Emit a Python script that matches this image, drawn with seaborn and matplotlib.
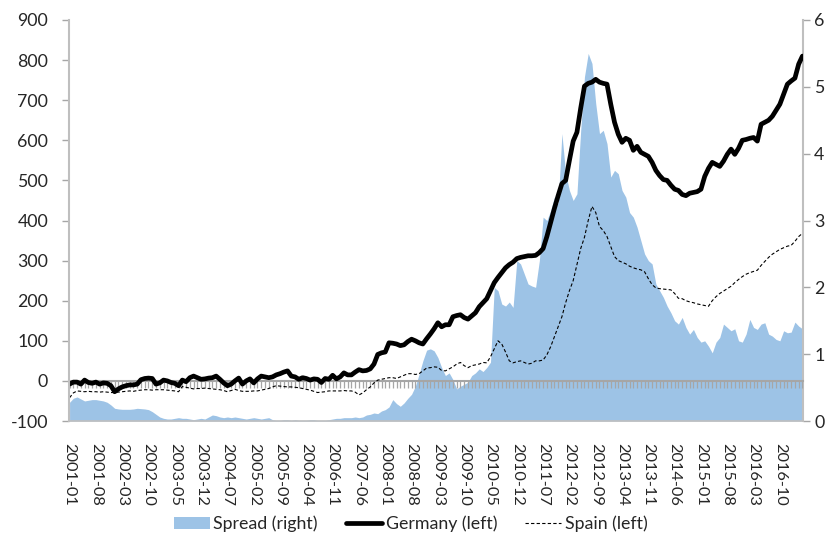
import numpy as np
import pandas as pd
import matplotlib
matplotlib.use("Agg")
import matplotlib.pyplot as plt
from matplotlib.patches import Patch
from matplotlib.lines import Line2D
import seaborn as sns

# ---------------- data ----------------
months = pd.period_range("2001-01", "2017-04", freq="M").strftime("%Y-%m").tolist()

tick_labels = ["2001-01", "2001-08", "2002-03", "2002-10", "2003-05", "2003-12",
               "2004-07", "2005-02", "2005-09", "2006-04", "2006-11", "2007-06",
               "2008-01", "2008-08", "2009-03", "2009-10", "2010-05", "2010-12",
               "2011-07", "2012-02", "2012-09", "2013-04", "2013-11", "2014-06",
               "2015-01", "2015-08", "2016-03", "2016-10"]

germany = [
    -8, -3, -3, -8, 2, -4, -6, -3, -8, -5, -6, -12,            # 2001
    -27, -20, -15, -12, -10, -10, -8, 3, 6, 7, 6, -8,          # 2002
    -5, 2, 0, -4, -6, -12, 2, -2, 8, 12, 8, 4,                 # 2003
    5, 7, 8, 12, 4, -5, -12, -8, 0, 7, -8, 0,                  # 2004
    5, -5, 5, 12, 10, 8, 10, 15, 18, 22, 25, 12,               # 2005
    10, 4, 8, 6, 2, 5, 4, -4, 6, 4, 14, 5,                     # 2006
    10, 20, 15, 15, 22, 28, 25, 26, 30, 42, 66, 70,            # 2007
    72, 95, 94, 92, 88, 90, 98, 104, 100, 95, 92, 105,         # 2008
    117, 130, 145, 135, 140, 140, 160, 163, 165, 158, 154, 162,  # 2009
    170, 185, 195, 205, 225, 245, 258, 270, 282, 290, 296, 305,  # 2010
    308, 310, 312, 312, 313, 320, 330, 360, 395, 430, 462, 492,  # 2011
    500, 550, 598, 620, 680, 735, 742, 745, 752, 745, 742, 740,  # 2012
    690, 645, 615, 595, 605, 600, 575, 585, 570, 565, 560, 545,  # 2013
    525, 512, 502, 500, 488, 478, 475, 465, 462, 468, 470, 472,  # 2014
    478, 510, 530, 545, 540, 535, 548, 565, 578, 565, 580, 600,  # 2015
    602, 605, 607, 598, 640, 645, 650, 660, 675, 690, 715, 740,  # 2016
    748, 755, 790, 810]                                          # 2017

spain = [
    -42, -30, -25, -26, -27, -26, -27, -27, -28, -27, -28, -29,  # 2001
    -29, -28, -27, -26, -25, -26, -24, -23, -22, -22, -23, -22,  # 2002
    -22, -22, -23, -24, -25, -27, -14, -16, -18, -20, -19, -19,  # 2003
    -18, -19, -20, -21, -22, -24, -27, -24, -21, -24, -26, -26,  # 2004
    -26, -25, -25, -23, -21, -19, -15, -12, -13, -14, -15, -15,  # 2005
    -16, -17, -19, -21, -23, -26, -29, -28, -27, -25, -25, -25,  # 2006
    -25, -24, -25, -25, -28, -35, -30, -22, -15, -5, 2, 4,       # 2007
    6, 8, 8, 6, 10, 14, 18, 18, 16, 18, 25, 32,                  # 2008
    33, 35, 34, 26, 25, 30, 35, 42, 46, 38, 33, 38,              # 2009
    40, 42, 46, 45, 60, 80, 100, 92, 72, 50, 45, 48,             # 2010
    50, 46, 42, 44, 50, 50, 52, 65, 85, 110, 135, 160,           # 2011
    195, 225, 250, 290, 330, 358, 400, 435, 420, 385, 375, 360,  # 2012
    335, 310, 300, 296, 292, 286, 282, 279, 277, 272, 255, 240,  # 2013
    232, 230, 229, 228, 227, 218, 206, 205, 200, 197, 195, 192,  # 2014
    190, 188, 186, 200, 210, 218, 224, 230, 236, 245, 253, 260,  # 2015
    266, 270, 273, 276, 288, 298, 308, 316, 322, 328, 332, 336,  # 2016
    338, 348, 360, 368]                                          # 2017

spread = [
    0.28, 0.34, 0.36, 0.33, 0.30, 0.31, 0.32, 0.32, 0.31, 0.30, 0.28, 0.24,  # 2001
    0.19, 0.18, 0.175, 0.175, 0.175, 0.18, 0.19, 0.185, 0.18, 0.17, 0.14, 0.10,  # 2002
    0.06, 0.04, 0.03, 0.03, 0.04, 0.05, 0.04, 0.04, 0.03, 0.02, 0.03, 0.04,  # 2003
    0.03, 0.06, 0.09, 0.08, 0.06, 0.05, 0.06, 0.05, 0.06, 0.05, 0.04, 0.03,  # 2004
    0.04, 0.05, 0.04, 0.03, 0.04, 0.05, 0.02, 0.01, 0.01, 0.02, 0.02, 0.01,  # 2005
    0.02, 0.01, 0.01, 0.01, 0.02, 0.02, 0.01, 0.01, 0.01, 0.02, 0.03, 0.04,  # 2006
    0.04, 0.05, 0.05, 0.05, 0.06, 0.05, 0.06, 0.09, 0.10, 0.12, 0.11, 0.15,  # 2007
    0.17, 0.21, 0.32, 0.26, 0.22, 0.27, 0.34, 0.40, 0.52, 0.70, 0.90, 1.06,  # 2008
    1.08, 1.05, 0.95, 0.80, 0.68, 0.72, 0.62, 0.48, 0.52, 0.55, 0.58, 0.68,  # 2009
    0.72, 0.78, 0.74, 0.80, 0.88, 2.00, 1.95, 1.75, 1.72, 1.78, 1.70, 2.40,  # 2010
    2.35, 2.20, 2.05, 2.02, 2.00, 2.40, 3.05, 3.00, 3.15, 3.35, 3.25, 4.30,  # 2011
    3.70, 3.45, 3.30, 3.40, 4.35, 5.15, 5.50, 5.35, 4.75, 4.30, 4.35, 4.15,  # 2012
    3.65, 3.75, 3.70, 3.45, 3.35, 3.12, 3.05, 2.90, 2.70, 2.50, 2.40, 2.35,  # 2013
    2.05, 1.95, 1.85, 1.72, 1.62, 1.50, 1.45, 1.55, 1.40, 1.30, 1.37, 1.25,  # 2014
    1.18, 1.20, 1.12, 1.02, 1.18, 1.25, 1.45, 1.40, 1.35, 1.38, 1.20, 1.18,  # 2015
    1.30, 1.52, 1.40, 1.37, 1.45, 1.47, 1.30, 1.27, 1.22, 1.20, 1.35, 1.32,  # 2016
    1.33, 1.48, 1.42, 1.38]                                                  # 2017

series_labels = ["Spread (right)", "Germany (left)", "Spain (left)"]

# ---------------- style ----------------
sns.set_style("white")
plt.rcParams["font.family"] = ["Lato", "DejaVu Sans"]
plt.rcParams["axes.unicode_minus"] = False

BLUE = "#9DC3E6"
GREY = "#A6A6A6"

df = pd.DataFrame({"idx": np.arange(len(months)), "month": months,
                   "Germany": germany, "Spain": spain, "Spread": spread})

fig = plt.figure(figsize=(8.35, 5.4), dpi=100)
ax = fig.add_axes([69 / 835, 1 - 421 / 540, (803 - 69) / 835, (421 - 20) / 540])
ax2 = ax.twinx()

# spread area on right axis
ax2.fill_between(df["idx"], 0, df["Spread"], color=BLUE, lw=0)

# lines on left axis
sns.lineplot(data=df, x="idx", y="Germany", ax=ax, color="black", lw=3.4,
             legend=False)
sns.lineplot(data=df, x="idx", y="Spain", ax=ax, color="black", lw=0.8,
             dashes=False, legend=False)
ax.lines[-1].set_linestyle((0, (3, 2)))

ax.set_zorder(ax2.get_zorder() + 1)
ax.patch.set_visible(False)

ax.set_xlim(-0.15, len(months) - 1 + 0.15)
ax.set_ylim(-100, 900)
ax2.set_ylim(0, 6)
ax.set_yticks(range(-100, 901, 100))
ax2.set_yticks(range(0, 7))
ax2.set_yticklabels([str(v) for v in range(0, 7)])

ax.set_xticks(np.arange(0, len(months), 7))
ax.set_xticklabels(tick_labels, rotation=-90, fontsize=11.8)
ax.set_xlabel("")
ax.set_ylabel("")

ax.tick_params(axis="x", length=0, pad=16)
ax.tick_params(axis="y", direction="out", length=5, width=1, color=GREY,
               labelsize=12.8, pad=10, left=True)
ax2.tick_params(axis="y", direction="out", length=5, width=1, color=GREY,
                labelsize=12.8, pad=3, right=True)

for s in ["top", "right"]:
    ax.spines[s].set_visible(False)
for s in ["top", "left", "bottom"]:
    ax2.spines[s].set_visible(False)
ax.spines["left"].set_color("#BFBFBF")
ax.spines["left"].set_linewidth(1.5)
ax.spines["bottom"].set_color("#BFBFBF")
ax.spines["bottom"].set_linewidth(1.2)
ax2.spines["right"].set_color("#BFBFBF")
ax2.spines["right"].set_linewidth(1.5)

# zero line with monthly tick marks (axis crossing at 0 on left scale)
sec = ax.secondary_xaxis(0.1)
sec.set_xticks(np.arange(len(months)))
sec.tick_params(axis="x", direction="out", length=5, width=0.9, color=GREY,
                labelbottom=False)
sec.spines["bottom"].set_color(GREY)
sec.spines["bottom"].set_linewidth(1.5)

# legend
handles = [Patch(facecolor=BLUE, edgecolor="none"),
           Line2D([], [], color="black", lw=3.4),
           Line2D([], [], color="black", lw=0.8, ls=(0, (3, 2)))]
fig.legend(handles, series_labels, loc="lower center",
           bbox_to_anchor=(0.492, -0.015), ncol=3, frameon=False,
           fontsize=12.8, handlelength=2.0, handletextpad=0.2,
           columnspacing=1.6)

fig.savefig("out.png", dpi=100)
